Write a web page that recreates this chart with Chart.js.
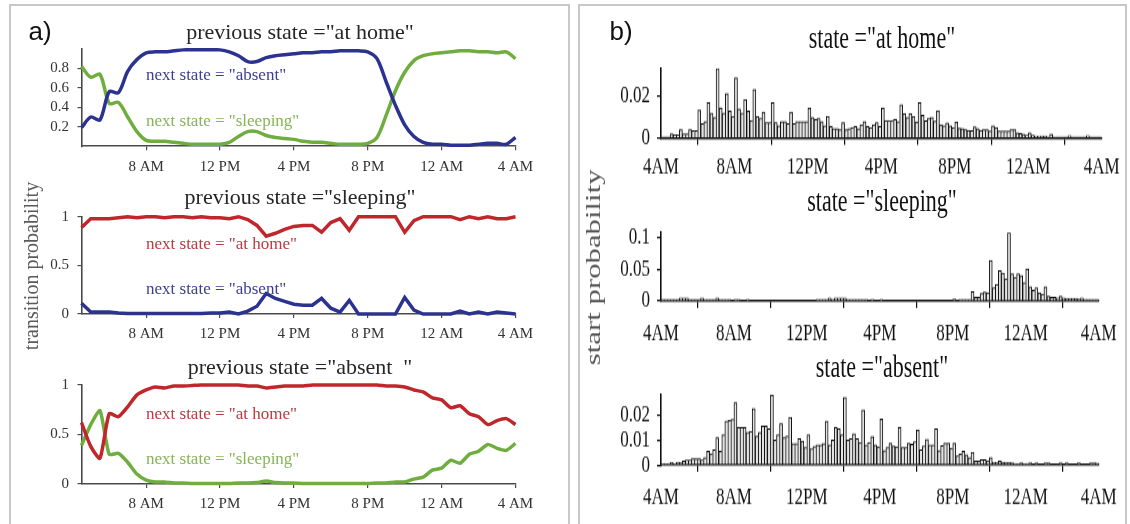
<!DOCTYPE html>
<html>
<head>
<meta charset="utf-8">
<script src="https://cdn.jsdelivr.net/npm/chart.js@4/dist/chart.umd.min.js"></script>
<style>
html, body { margin: 0; padding: 0; background: #fff; }
#page { position: relative; width: 1130px; height: 524px; overflow: hidden; background: #fff;
        font-family: "Liberation Serif", "Times New Roman", serif; }
.frame { position: absolute; box-sizing: border-box; border: 2px solid #c8c8c8; border-bottom: none; }
canvas { position: absolute; }
.txt { position: absolute; white-space: pre; line-height: 1; }
#stretch { position: absolute; left: 0; top: 0; width: 1130px; height: 374.3px;
           transform: scaleY(1.4); transform-origin: 0 0; }
</style>
</head>
<body>
<div id="page">
  <div class="frame" style="left:9px;top:4px;width:561px;height:600px;"></div>
  <div class="frame" style="left:578px;top:4px;width:549px;height:600px;"></div>
  <div id="stretch"></div>
</div>
<script>
// ---- a) transition probabilities, half-hour steps ----
const hours = [4.5, 5, 5.5, 6, 6.5, 7, 7.5, 8, 8.5, 9, 9.5, 10, 10.5, 11, 11.5, 12,
  12.5, 13, 13.5, 14, 14.5, 15, 15.5, 16, 16.5, 17, 17.5, 18, 18.5, 19, 19.5, 20,
  20.5, 21, 21.5, 22, 22.5, 23, 23.5, 24, 24.5, 25, 25.5, 26, 26.5, 27, 27.5, 28];
const hourTicks = [8, 12, 16, 20, 24, 28];
const hourTickLabels = ['8 AM', '12 PM', '4 PM', '8 PM', '12 AM', '4 AM'];

const homeToAbsent = [0.19, 0.30, 0.27, 0.56, 0.55, 0.77, 0.89, 0.96, 0.97, 0.97, 0.98, 0.99, 0.99, 0.99, 0.99, 0.99,
  0.97, 0.93, 0.87, 0.87, 0.91, 0.93, 0.94, 0.95, 0.96, 0.96, 0.97, 0.97, 0.98, 0.98, 0.98, 0.97,
  0.90, 0.66, 0.42, 0.22, 0.10, 0.04, 0.02, 0.02, 0.01, 0.01, 0.01, 0.02, 0.03, 0.03, 0.02, 0.09];
const homeToSleeping = [0.82, 0.71, 0.74, 0.44, 0.45, 0.30, 0.15, 0.06, 0.05, 0.05, 0.04, 0.03, 0.02, 0.02, 0.02, 0.02,
  0.04, 0.10, 0.15, 0.15, 0.11, 0.09, 0.08, 0.07, 0.05, 0.04, 0.04, 0.03, 0.02, 0.02, 0.02, 0.03,
  0.09, 0.32, 0.57, 0.76, 0.88, 0.93, 0.95, 0.96, 0.97, 0.98, 0.98, 0.97, 0.97, 0.96, 0.97, 0.90];
const sleepToHome = [0.89, 0.98, 0.98, 0.98, 0.99, 1.0, 0.99, 1.0, 1.0, 0.99, 1.0, 1.0, 0.99, 1.0, 0.99, 0.99,
  0.98, 1.0, 0.97, 0.91, 0.80, 0.83, 0.87, 0.90, 0.91, 0.91, 0.84, 0.94, 0.98, 0.86, 1.0, 1.0,
  1.0, 1.0, 1.0, 0.84, 0.96, 1.0, 1.0, 1.0, 1.0, 0.97, 1.0, 0.98, 1.0, 0.98, 0.98, 1.0];
const sleepToAbsent = [0.11, 0.02, 0.02, 0.02, 0.01, 0.005, 0.005, 0.005, 0.005, 0.005, 0.005, 0.005, 0.005, 0.005, 0.01, 0.01,
  0.02, 0.0, 0.03, 0.08, 0.21, 0.16, 0.13, 0.10, 0.09, 0.09, 0.16, 0.06, 0.02, 0.14, 0.0, 0.0,
  0.0, 0.0, 0.0, 0.17, 0.04, 0.0, 0.0, 0.0, 0.0, 0.03, 0.0, 0.02, 0.0, 0.02, 0.01, 0.0];
const absentToHome = [0.62, 0.38, 0.26, 0.71, 0.68, 0.78, 0.90, 0.95, 0.98, 0.97, 0.99, 0.99, 0.995, 1.0, 1.0, 1.0,
  1.0, 1.0, 0.99, 0.99, 0.97, 0.98, 0.99, 0.99, 0.99, 1.0, 1.0, 1.0, 1.0, 1.0, 1.0, 1.0,
  1.0, 0.99, 0.99, 0.98, 0.95, 0.93, 0.87, 0.85, 0.77, 0.79, 0.71, 0.68, 0.60, 0.64, 0.66, 0.60];
const absentToSleeping = [0.39, 0.60, 0.74, 0.30, 0.31, 0.22, 0.10, 0.04, 0.02, 0.02, 0.01, 0.01, 0.005, 0.005, 0.005, 0.005,
  0.005, 0.01, 0.01, 0.015, 0.03, 0.015, 0.01, 0.01, 0.005, 0.005, 0.005, 0.005, 0.005, 0.005, 0.005, 0.005,
  0.01, 0.01, 0.02, 0.02, 0.05, 0.07, 0.14, 0.16, 0.24, 0.21, 0.30, 0.33, 0.40, 0.36, 0.34, 0.41];

// ---- b) start probabilities, 10-minute bins from 4AM ----
const binTicks = [4, 8, 12, 16, 20, 24, 28];
const binTickLabels = ['4AM', '8AM', '12PM', '4PM', '8PM', '12AM', '4AM'];

const startHome = [
  0.0006, 0.0006, 0.0006, 0.002, 0.0015, 0.0015, 0.004, 0.002, 0.002, 0.004, 0.0035, 0.0035,
  0.0135, 0.007, 0.008, 0.017, 0.012, 0.010,
  0.0335, 0.0145, 0.012, 0.0215, 0.013, 0.0105, 0.029, 0.014, 0.012, 0.0185, 0.013, 0.0085,
  0.0235, 0.0105, 0.0095, 0.0125, 0.0075, 0.0075, 0.017, 0.0075, 0.006, 0.008, 0.008, 0.007,
  0.0125, 0.007, 0.008, 0.008, 0.008, 0.008, 0.0145, 0.01, 0.009, 0.0095, 0.008, 0.006,
  0.0105, 0.0055, 0.0045, 0.0045, 0.004, 0.0075, 0.004, 0.0045, 0.005, 0.0055, 0.0045, 0.0065,
  0.008, 0.0055, 0.005, 0.0065, 0.0075, 0.0055,
  0.0145, 0.0085, 0.0085, 0.0085, 0.009, 0.008, 0.016, 0.0118, 0.0099, 0.0118, 0.0105, 0.0077,
  0.017, 0.011, 0.0083, 0.0094, 0.01, 0.0081, 0.0132, 0.0065, 0.006, 0.0073, 0.006, 0.005,
  0.0078, 0.0048, 0.0045, 0.0041, 0.0038, 0.0035, 0.0054, 0.0046, 0.0038, 0.004, 0.004, 0.0034,
  0.0059, 0.0051, 0.0034, 0.0034, 0.0034, 0.0034, 0.004, 0.004, 0.0026, 0.0022, 0.0019, 0.0013,
  0.0026, 0.0013, 0.0011, 0.0011, 0.0011, 0.001, 0.0006, 0.0019, 0.0006, 0.0006, 0.0006, 0.0006,
  0.0006, 0.0012, 0.0006, 0.0006, 0.0006, 0.0006, 0.0006, 0.0012, 0.0006, 0.0006, 0.0006, 0.0006];
const startSleeping = [
  0.0025, 0.0025, 0.0025, 0.0025, 0.0025, 0.0025, 0.005, 0.005, 0.005, 0.0025, 0.0025, 0.0025,
  0.0025, 0.005, 0.0025, 0.0025, 0.0025, 0.0025, 0.005, 0.0025, 0.0025, 0.0025, 0.0025, 0,
  0.0025, 0.0025, 0, 0, 0.0025, 0, 0, 0, 0, 0, 0, 0,
  0, 0, 0, 0, 0, 0, 0, 0, 0, 0, 0, 0,
  0, 0, 0, 0.0025, 0.0025, 0.0025, 0.0025, 0.005, 0.0025, 0.005, 0.005, 0.005,
  0.005, 0.0025, 0.0025, 0.0025, 0.0025, 0.0025, 0.0025, 0.0025, 0, 0.0025, 0, 0,
  0.0025, 0, 0, 0, 0, 0, 0, 0, 0, 0, 0, 0,
  0, 0, 0, 0, 0, 0, 0, 0, 0, 0, 0, 0,
  0.003, 0, 0.0025, 0.0025, 0.0025, 0.0025, 0.0146, 0.0057, 0.0057, 0.012, 0.014, 0.013,
  0.064, 0.021, 0.0266, 0.048, 0.044, 0.035, 0.108, 0.043, 0.0375, 0.043, 0.04, 0.029,
  0.051, 0.0224, 0.017, 0.021, 0.013, 0.011, 0.0224, 0.0078, 0.0057, 0.0057, 0.005, 0.0078,
  0.005, 0.004, 0.004, 0.004, 0.004, 0.003, 0.005, 0.0025, 0.0025, 0.0025, 0.0025, 0.0025];
const startAbsent = [
  0.0006, 0.0006, 0.0006, 0.001, 0.0006, 0.001, 0.001, 0.0015, 0.002, 0.002, 0.0025, 0.0025,
  0.0025, 0.002, 0.003, 0.0055, 0.0045, 0.006, 0.011, 0.0055, 0.012, 0.0175, 0.0178, 0.0182,
  0.025, 0.015, 0.015, 0.015, 0.013, 0.0135, 0.0225, 0.0115, 0.013, 0.0155, 0.0155, 0.0145,
  0.028, 0.01, 0.012, 0.0165, 0.011, 0.0115, 0.019, 0.0085, 0.0085, 0.0105, 0.0095, 0.007,
  0.012, 0.0065, 0.0075, 0.008, 0.008, 0.0085, 0.0175, 0.008, 0.01, 0.015, 0.0145, 0.012,
  0.027, 0.01, 0.0105, 0.0125, 0.0105, 0.009, 0.022, 0.008, 0.009, 0.0113, 0.008, 0.0073,
  0.0183, 0.0057, 0.007, 0.0087, 0.0076, 0.0073, 0.015, 0.007, 0.007, 0.0087, 0.0083, 0.0093,
  0.014, 0.006, 0.0076, 0.0103, 0.008, 0.008, 0.0145, 0.0057, 0.0077, 0.0087, 0.0087, 0.0067,
  0.0087, 0.0036, 0.0043, 0.0055, 0.0041, 0.003, 0.005, 0.0016, 0.0016, 0.0021, 0.0021, 0.0017,
  0.003, 0.001, 0.001, 0.0016, 0.0012, 0.001, 0.001, 0.0008, 0.0006, 0.0006, 0.0009, 0.0006,
  0.0006, 0.0008, 0, 0.0008, 0, 0, 0.0009, 0.0009, 0, 0, 0, 0.0009,
  0, 0.0009, 0, 0, 0, 0.0009, 0, 0, 0, 0.0009, 0.0009, 0.0007];

const FONT = '"Liberation Serif", "Times New Roman", serif';
const NAVY = '#2b3290', GREEN = '#6fae3e', RED = '#c0272d';
Chart.defaults.font.family = FONT;

const page = document.getElementById('page');
const stretch = document.getElementById('stretch');

function addText(parent, str, x, y, size, color, extra) {
  const d = document.createElement('div');
  d.className = 'txt';
  d.textContent = str;
  d.style.left = x + 'px';
  d.style.top = y + 'px';
  d.style.fontSize = size + 'px';
  d.style.color = color;
  d.style.transform = extra || 'translate(-50%, -50%)';
  parent.appendChild(d);
  return d;
}

// canvas sized so the plot area lands on the given box
function makeCanvas(parent, area, yW, padTop, padRight, xH) {
  const cx = Math.floor(area.left - yW), cy = Math.floor(area.top - padTop);
  const cw = Math.ceil(area.right + padRight) - cx, ch = Math.ceil(area.bottom + xH) - cy;
  const c = document.createElement('canvas');
  c.width = cw; c.height = ch;
  c.style.left = cx + 'px'; c.style.top = cy + 'px';
  c.style.width = cw + 'px'; c.style.height = ch + 'px';
  parent.appendChild(c);
  return { canvas: c, pad: { left: 0, top: area.top - cy, right: cx + cw - area.right, bottom: 0 },
           yW: area.left - cx, xH: cy + ch - area.bottom };
}

function scaleX(g, min, max, ticks, labels, st) {
  return {
    type: 'linear', min: min, max: max, offset: false, bounds: 'data',
    afterFit: s => { s.height = g.xH; },
    afterBuildTicks: s => { s.ticks = ticks.map(v => ({ value: v })); },
    ticks: { autoSkip: false, maxRotation: 0, padding: st.pad, color: st.text,
             font: { family: FONT, size: st.size }, callback: (v, i) => labels[i] },
    grid: { drawOnChartArea: false, drawTicks: true, tickLength: st.tick, color: st.axis, lineWidth: 1.2 },
    border: { display: true, color: st.axis, width: 1.6 }
  };
}

function scaleY(g, max, ticks, st) {
  return {
    type: 'linear', min: 0, max: max, bounds: 'data',
    afterFit: s => { s.width = g.yW; },
    afterBuildTicks: s => { s.ticks = ticks.map(v => ({ value: v })); },
    ticks: { autoSkip: false, padding: st.ypad, color: st.text,
             font: { family: FONT, size: st.size }, callback: v => String(v) },
    grid: { drawOnChartArea: false, drawTicks: true, tickLength: 4, color: st.axis, lineWidth: 1.2 },
    border: { display: true, color: st.axis, width: 1.6 }
  };
}

const styleA = { size: 15, text: '#333', axis: '#4a4a4a', pad: 7.5, ypad: 8.5, tick: 4 };

function transitionChart(area, series, yTicks) {
  const g = makeCanvas(page, area, 62, 26, 25, 32);
  new Chart(g.canvas, {
    type: 'line',
    data: {
      datasets: series.map(s => ({
        data: hours.map((h, i) => ({ x: h, y: s.values[i] })),
        borderColor: s.color, borderWidth: 3.5, pointRadius: 0,
        tension: s.tension, clip: 6, fill: false
      }))
    },
    options: {
      responsive: false, animation: false, devicePixelRatio: 1, events: [],
      layout: { padding: g.pad },
      plugins: { legend: { display: false }, tooltip: { enabled: false } },
      scales: { x: scaleX(g, 4.5, 28, hourTicks, hourTickLabels, styleA), y: scaleY(g, 1, yTicks, styleA) }
    }
  });
}

transitionChart({ left: 81.5, right: 515.5, top: 48.9, bottom: 146.2 },
  [{ values: homeToAbsent, color: NAVY, tension: 0.3 }, { values: homeToSleeping, color: GREEN, tension: 0.3 }],
  [0.2, 0.4, 0.6, 0.8]);
transitionChart({ left: 81.5, right: 515.5, top: 216.7, bottom: 314 },
  [{ values: sleepToHome, color: RED, tension: 0 }, { values: sleepToAbsent, color: NAVY, tension: 0 }],
  [0, 0.5, 1]);
transitionChart({ left: 81.5, right: 515.5, top: 385, bottom: 484 },
  [{ values: absentToHome, color: RED, tension: 0.2 }, { values: absentToSleeping, color: GREEN, tension: 0.2 }],
  [0, 0.5, 1]);

// histograms live in the vertically stretched layer
function startChart(area, values, yMax, yTicks, xPad) {
  const st = { size: 17, text: '#111', axis: '#111', pad: xPad, ypad: 7, tick: 5 };
  const g = makeCanvas(stretch, area, 61, 24, 22.5, 30);
  new Chart(g.canvas, {
    type: 'bar',
    data: {
      datasets: [{
        data: values.map((v, i) => ({ x: 4 + (i + 0.5) / 6, y: v })),
        backgroundColor: '#e3e3e3', borderColor: '#111',
        borderWidth: c => ({ top: 1, left: 1, bottom: 0,
          right: values[c.dataIndex] > (values[c.dataIndex + 1] || 0) ? 1 : 0 }),
        borderSkipped: 'start', barPercentage: 1, categoryPercentage: 1
      }]
    },
    options: {
      responsive: false, animation: false, devicePixelRatio: 1, events: [],
      layout: { padding: g.pad },
      plugins: { legend: { display: false }, tooltip: { enabled: false } },
      scales: { x: scaleX(g, 4, 28, binTicks, binTickLabels, st), y: scaleY(g, yMax, yTicks, st) }
    }
  });
}

startChart({ left: 661, right: 1102.5, top: 48.8, bottom: 98.6 }, startHome, 0.0336, [0, 0.02], 5.4);
startChart({ left: 661, right: 1102.5, top: 166.2, bottom: 215 }, startSleeping, 0.108, [0, 0.05, 0.1], 8.4);
startChart({ left: 661, right: 1102.5, top: 281.4, bottom: 332.1 }, startAbsent, 0.0284, [0, 0.01, 0.02], 8.4);

// ---- text ----
addText(page, 'a)', 40, 31, 26, '#111').style.fontFamily = '"Liberation Sans", Arial, sans-serif';
addText(page, 'b)', 621, 31, 26, '#111').style.fontFamily = '"Liberation Sans", Arial, sans-serif';

addText(page, 'previous state ="at home"', 300, 32, 22, '#262626');
addText(page, 'previous state ="sleeping"', 300, 197, 22, '#262626');
addText(page, 'previous state ="absent  "', 300, 367, 22, '#262626');

const lab = (s, y, c) => addText(page, s, 146, y, 17, c, 'translate(0, -50%)');
lab('next state = "absent"', 74, '#3b3f92');
lab('next state = "sleeping"', 119.5, '#86b556');
lab('next state = "at home"', 243, '#b83a42');
lab('next state = "absent"', 287.5, '#3b3f92');
lab('next state = "at home"', 413, '#b83a42');
lab('next state = "sleeping"', 457.5, '#86b556');

addText(page, 'transition probability', 31, 266, 20, '#5a5a5a', 'translate(-50%, -50%) rotate(-90deg)');

addText(stretch, 'state ="at home"', 882, 27.1, 22, '#111');
addText(stretch, 'state ="sleeping"', 882, 144.3, 22, '#111');
addText(stretch, 'state ="absent"', 882, 262, 22, '#111');
addText(stretch, 'start probability', 593, 191.4, 22, '#555', 'translate(-50%, -50%) rotate(-90deg)');
</script>
</body>
</html>
